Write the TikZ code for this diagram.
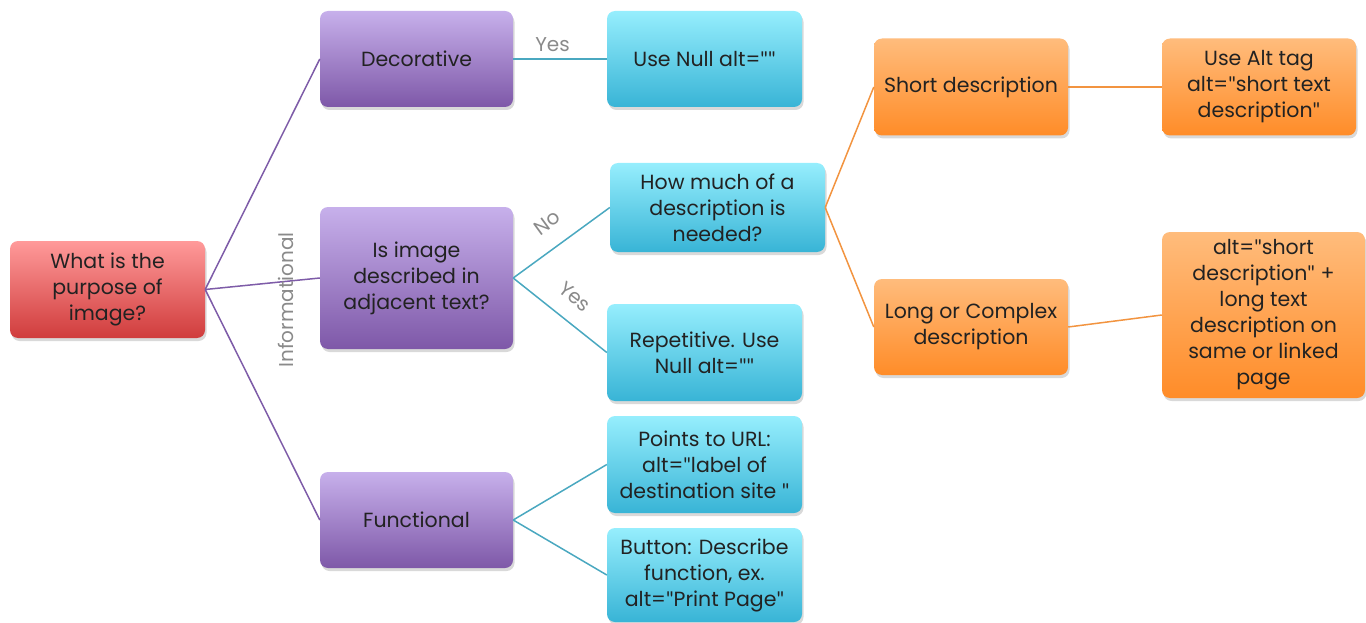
\documentclass[tikz,border=0pt]{standalone}
\usepackage{fontspec}
\setmainfont{Poppins}
\newfontfamily\quotefont{Lato}
\newcommand{\dq}{{\quotefont\symbol{34}}}
\usetikzlibrary{shadows}
\definecolor{txt}{HTML}{222222}
\definecolor{lbl}{HTML}{8A8A8A}
\definecolor{purpL}{HTML}{7E5CA8}
\definecolor{tealL}{HTML}{4AA8C0}
\definecolor{oranL}{HTML}{F29440}
\tikzset{
  box/.style={rounded corners=8pt, inner sep=2pt, align=center, text=txt,
    font=\fontsize{20.5}{26}\selectfont,
    drop shadow={opacity=0.3, shadow xshift=1.5pt, shadow yshift=-3pt}},
  redbox/.style={box, top color={rgb,255:red,255;green,154;blue,154}, bottom color={rgb,255:red,208;green,60;blue,60}},
  purbox/.style={box, top color={rgb,255:red,199;green,176;blue,235}, bottom color={rgb,255:red,126;green,88;blue,168}},
  cyabox/.style={box, top color={rgb,255:red,150;green,238;blue,253}, bottom color={rgb,255:red,56;green,180;blue,214}},
  orabox/.style={box, top color={rgb,255:red,255;green,188;blue,124}, bottom color={rgb,255:red,255;green,140;blue,40}},
  pline/.style={draw=purpL, line width=1.5pt},
  tline/.style={draw=tealL, line width=1.5pt},
  oline/.style={draw=oranL, line width=1.5pt},
  elabel/.style={text=lbl, font=\fontsize{20}{22}\selectfont, inner sep=1pt},
}
\begin{document}
\begin{tikzpicture}[x=1pt,y=-1pt]
\useasboundingbox (0,0) rectangle (1366,623);
\node[redbox, minimum width=195pt, minimum height=97pt] (root) at (107.5,289.5) {What is the\\purpose of\\image?};
\node[purbox, minimum width=193pt, minimum height=96pt] (dec) at (416.5,59) {Decorative};
\node[purbox, minimum width=193pt, minimum height=142pt] (isimg) at (416.5,278) {Is image\\described in\\adjacent text?};
\node[purbox, minimum width=193pt, minimum height=96pt] (fun) at (416.5,520) {Functional};
\node[cyabox, minimum width=195pt, minimum height=96pt] (null) at (704.5,59) {Use Null alt=\dq\dq};
\node[cyabox, minimum width=215pt, minimum height=89pt] (how) at (717.5,207.5) {How much of a\\description is\\needed?};
\node[cyabox, minimum width=195pt, minimum height=97pt] (rep) at (704.5,352.5) {Repetitive. Use\\Null alt=\dq\dq};
\node[cyabox, minimum width=195pt, minimum height=97pt] (url) at (704.5,464.5) {Points to URL:\\alt=\dq label of\\destination site \dq};
\node[cyabox, minimum width=195pt, minimum height=94pt] (btn) at (704.5,575) {Button: Describe\\function, ex.\\alt=\dq Print Page\dq};
\node[orabox, minimum width=194pt, minimum height=97pt] (short) at (971,87) {Short description};
\node[orabox, minimum width=194pt, minimum height=97pt] (alttag) at (1259,87) {Use Alt tag\\alt=\dq short text\\description\dq};
\node[orabox, minimum width=194pt, minimum height=96pt] (long) at (971,327) {Long or Complex\\description};
\node[orabox, minimum width=203pt, minimum height=166pt] (altlong) at (1263.5,315) {alt=\dq short\\description\dq{} +\\long text\\description on\\same or linked\\page};

\draw[pline] (root.east) -- (dec.west);
\draw[pline] (root.east) -- (isimg.west);
\draw[pline] (root.east) -- (fun.west);
\draw[tline] (dec.east) -- node[elabel, pos=0.42, above=6pt] (lyes1) {Yes} (null.west);
\draw[tline] (isimg.east) -- node[elabel, pos=0.5, sloped, above=16pt] (lno) {No} (how.west);
\draw[tline] (isimg.east) -- node[elabel, pos=0.5, sloped, above=15pt] (lyes2) {Yes} (rep.west);
\draw[tline] (fun.east) -- (url.west);
\draw[tline] (fun.east) -- (btn.west);
\draw[oline] (how.east) -- (short.west);
\draw[oline] (how.east) -- (long.west);
\draw[oline] (short.east) -- (alttag.west);
\draw[oline] (long.east) -- (altlong.west);
\node[elabel, rotate=90] (linfo) at (286,300) {Informational};
\end{tikzpicture}
\end{document}
